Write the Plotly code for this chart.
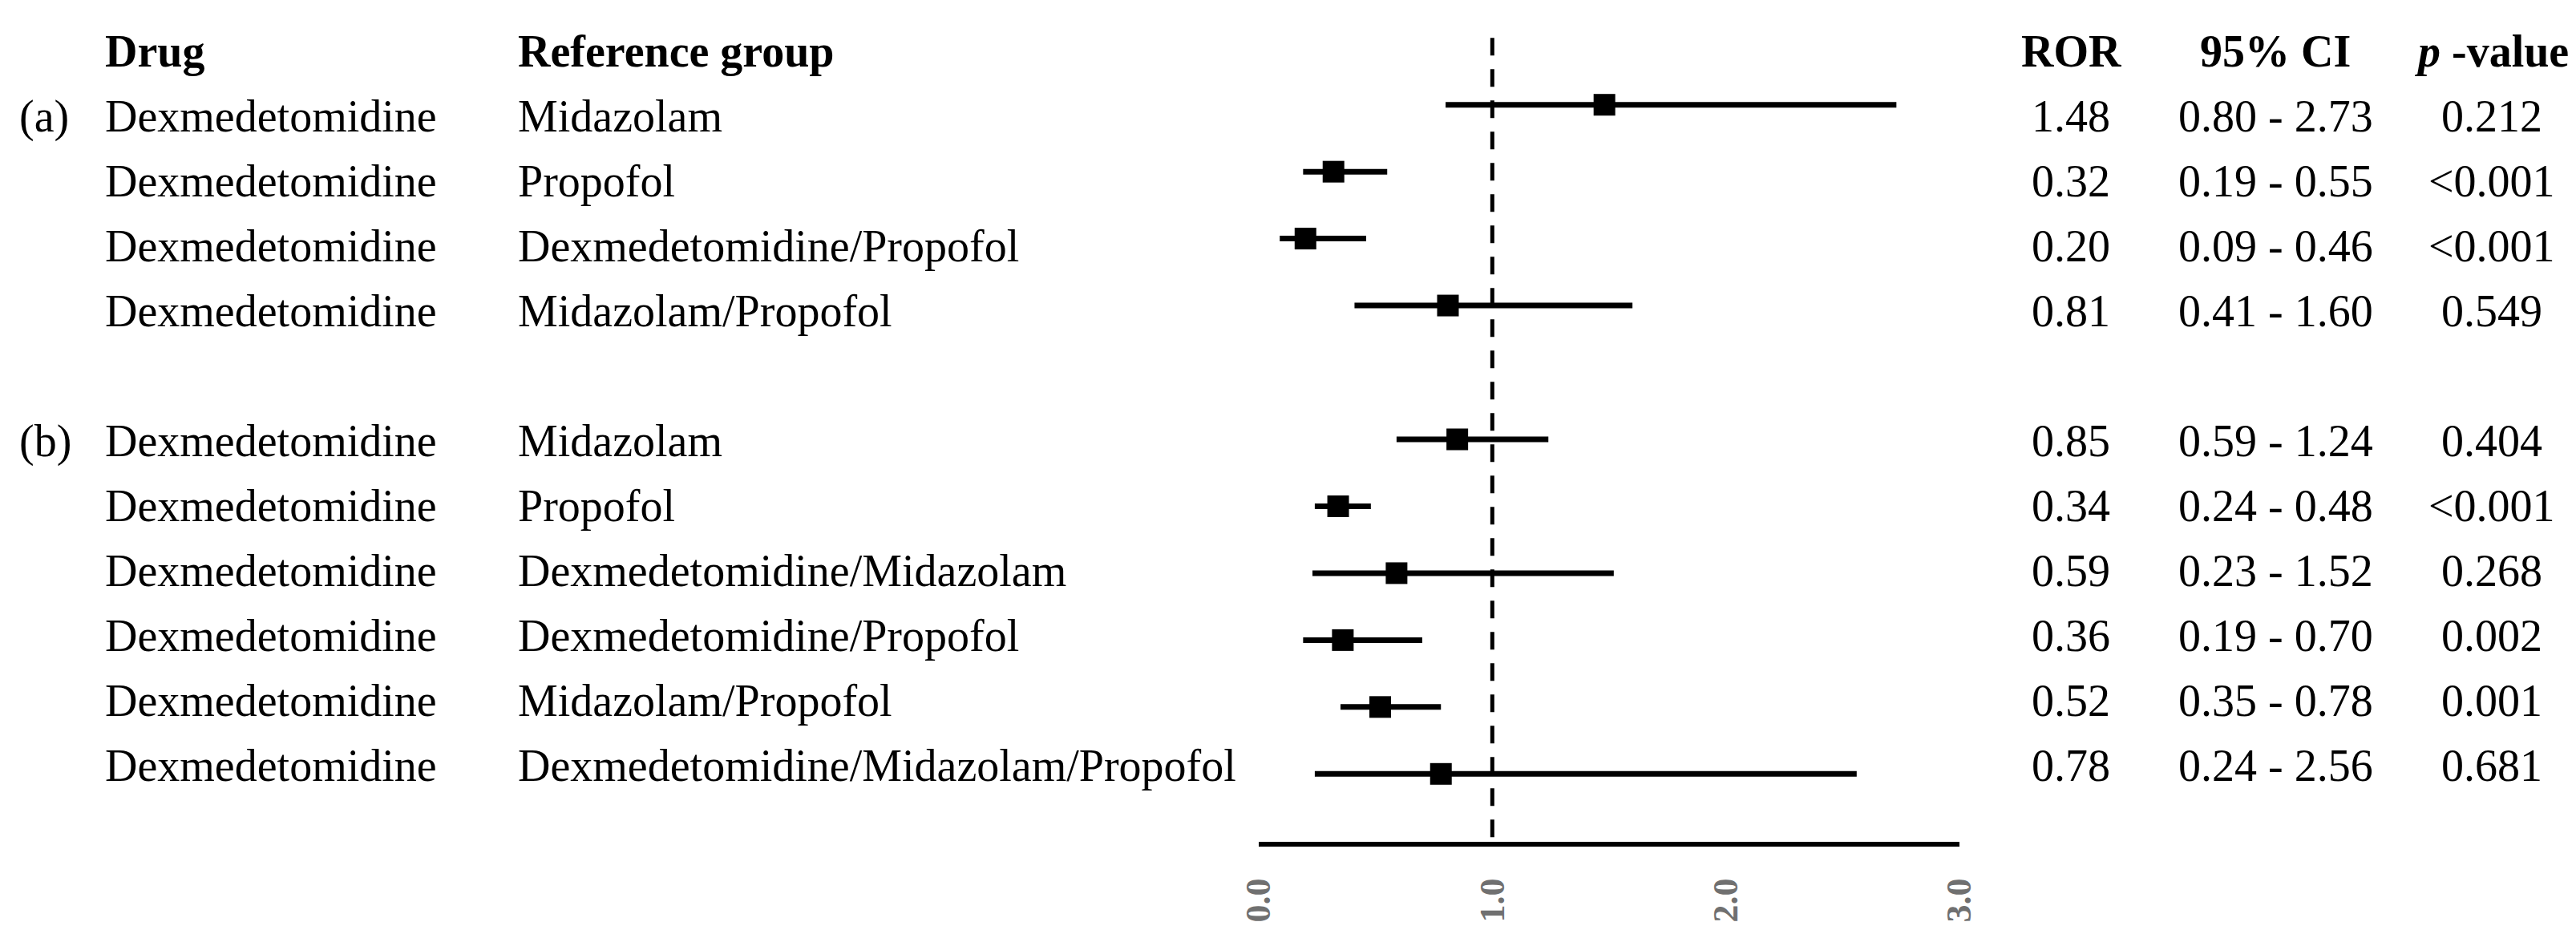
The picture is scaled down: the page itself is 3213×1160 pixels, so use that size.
import plotly.graph_objects as go

# ---------------- data ----------------
groups = ["(a)", "", "", "", "(b)", "", "", "", "", ""]
drugs = ["Dexmedetomidine"] * 10
refs = ["Midazolam", "Propofol", "Dexmedetomidine/Propofol", "Midazolam/Propofol",
        "Midazolam", "Propofol", "Dexmedetomidine/Midazolam", "Dexmedetomidine/Propofol",
        "Midazolam/Propofol", "Dexmedetomidine/Midazolam/Propofol"]
ror = [1.48, 0.32, 0.20, 0.81, 0.85, 0.34, 0.59, 0.36, 0.52, 0.78]
ci_low = [0.80, 0.19, 0.09, 0.41, 0.59, 0.24, 0.23, 0.19, 0.35, 0.24]
ci_high = [2.73, 0.55, 0.46, 1.60, 1.24, 0.48, 1.52, 0.70, 0.78, 2.56]
pvals = ["0.212", "<0.001", "<0.001", "0.549", "0.404", "<0.001", "0.268", "0.002", "0.001", "0.681"]
row_slot = [0, 1, 2, 3, 5, 6, 7, 8, 9, 10]   # blank slot 4 separates (a) and (b)
tick_vals = [0, 1, 2, 3]
tick_text = ["0.0", "1.0", "2.0", "3.0"]
null_value = 1.0
headers = ["Drug", "Reference group", "ROR", "95% CI", "<i>p</i> -value"]

# ---------------- layout constants ----------------
W, H = 3213, 1160
FONT = "Liberation Serif"
FS = 56

fig = go.Figure()

# CI lines + squares
fig.add_trace(go.Scatter(
    x=ror, y=row_slot, mode="markers",
    marker=dict(symbol="square", size=27, color="black", line=dict(width=0)),
    error_x=dict(type="data", symmetric=False,
                 array=[h - r for h, r in zip(ci_high, ror)],
                 arrayminus=[r - l for r, l in zip(ror, ci_low)],
                 color="black", thickness=7, width=0),
    showlegend=False, hoverinfo="skip"))

# dashed reference line
fig.add_trace(go.Scatter(
    x=[null_value, null_value], y=[-1, 11], mode="lines",
    line=dict(color="black", width=5, dash="22px,17px"),
    showlegend=False, hoverinfo="skip"))

# ---------------- table text ----------------
def px(x):
    return x / W

ann = []
def add(x, y, text, anchor, bold=False):
    t = text.replace("<0", "&lt;0")
    if bold:
        t = "<b>" + t + "</b>"
    ann.append(dict(x=px(x), y=y, xref="paper", yref="y2", text=t,
                    showarrow=False, xanchor=anchor, yanchor="middle",
                    font=dict(family=FONT, size=FS, color="black")))

col_x = {"grp": 14, "drug": 121, "ref": 636, "ror": 2575, "ci": 2830, "p": 3100}
add(col_x["drug"], -1, headers[0], "left", True)
add(col_x["ref"], -1, headers[1], "left", True)
add(col_x["ror"], -1, headers[2], "center", True)
add(col_x["ci"], -1, headers[3], "center", True)
add(col_x["p"], -1, headers[4], "center", True)

for g, d, r, o, lo, hi, p, s in zip(groups, drugs, refs, ror, ci_low, ci_high, pvals, row_slot):
    if g:
        add(col_x["grp"], s, g, "left")
    add(col_x["drug"], s, d, "left")
    add(col_x["ref"], s, r, "left")
    add(col_x["ror"], s, f"{o:.2f}", "center")
    add(col_x["ci"], s, f"{lo:.2f} - {hi:.2f}", "center")
    add(col_x["p"], s, p, "center")

x0_px, x3_px = 1562, 2436
axis_px = 1042
ydom0 = (H - axis_px) / H

fig.update_layout(
    width=W, height=H,
    margin=dict(l=0, r=0, t=0, b=0),
    paper_bgcolor="white", plot_bgcolor="white",
    annotations=ann,
    xaxis=dict(domain=[px(x0_px), px(x3_px)], range=[0, 3],
               showgrid=False, zeroline=False,
               showline=True, linecolor="black", linewidth=6,
               tickvals=tick_vals, ticktext=tick_text, tickangle=-90,
               ticks="", ticklabelstandoff=22,
               tickfont=dict(family=FONT, size=44, color="#707070", weight="bold"),
               automargin=False, fixedrange=True),
    yaxis=dict(domain=[ydom0, 1], range=[(axis_px - 122.7) / 83.46, -122.7 / 83.46],
               visible=False, automargin=False, fixedrange=True),
    yaxis2=dict(overlaying="y", range=[(axis_px - 137) / 81.0, -137 / 81.0],
                visible=False, automargin=False, fixedrange=True),
    font=dict(family=FONT, size=FS, color="black"),
)

fig.write_html("out.html")
